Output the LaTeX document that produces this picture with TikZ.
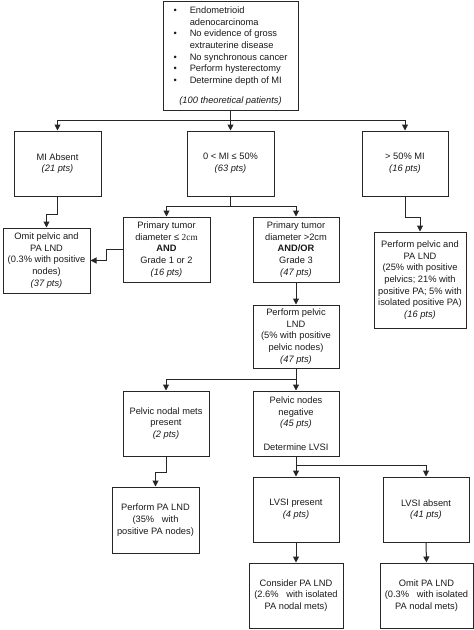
\documentclass[tikz,border=0pt]{standalone}
\usepackage{fontspec}
\setmainfont{Liberation Sans}
\newfontfamily\serifcm{Liberation Serif}
\usetikzlibrary{arrows.meta}
\begin{document}
\begin{tikzpicture}[x=1pt,y=-1pt,
  box/.style={draw=black!85, line width=1pt, inner sep=0pt, align=center,
    font=\fontsize{9.3}{11.6}\selectfont, text=black!90},
  link/.style={draw=black!85, line width=1pt},
  arr/.style={link, -{Triangle[length=6pt,width=6pt]}}]
\useasboundingbox (0,0) rectangle (474,630);

\node[box, minimum width=135pt, minimum height=109pt] (top) at (230.5,55.5)
 {\begin{tabular}{@{}l@{\hspace{13pt}}l@{}}
  \textbullet & Endometrioid\\
   & adenocarcinoma\\
  \textbullet & No evidence of gross\\
   & extrauterine disease\\
  \textbullet & No synchronous cancer\\
  \textbullet & Perform hysterectomy\\
  \textbullet & Determine depth of MI
  \end{tabular}\\[9pt]
  \textit{(100 theoretical patients)}};

\node[box, minimum width=87pt, minimum height=65pt] (mia) at (57.5,163.5)
 {MI Absent\\ \textit{(21 pts)}};
\node[box, minimum width=87pt, minimum height=65pt] (mid) at (230.5,163.5)
 {0 < MI ≤ 50\%\\ \textit{(63 pts)}};
\node[box, minimum width=86pt, minimum height=65pt] (deep) at (405,163.5)
 {> 50\% MI\\ \textit{(16 pts)}};

\node[box, minimum width=87pt, minimum height=65pt] (omit) at (46.5,260.5)
 {Omit pelvic and\\ PA LND\\ (0.3\% with positive\\ nodes)\\ \textit{(37 pts)}};
\node[box, minimum width=87pt, minimum height=65pt] (small) at (166.5,249.5)
 {Primary tumor\\ diameter ≤ {\serifcm 2cm}\\ \textbf{AND}\\ Grade 1 or 2\\ \textit{(16 pts)}};
\node[box, minimum width=86pt, minimum height=65pt] (large) at (296,249.5)
 {Primary tumor\\ diameter >2cm\\ \textbf{AND/OR}\\ Grade 3\\ \textit{(47 pts)}};
\node[box, minimum width=92pt, minimum height=96pt] (pelvpa) at (420,280)
 {Perform pelvic and\\ PA LND\\ (25\% with positive\\ pelvics; 21\% with\\ positive PA; 5\% with\\ isolated positive PA)\\ \textit{(16 pts)}};

\node[box, minimum width=86pt, minimum height=63pt] (pelvic) at (296,336.5)
 {Perform pelvic\\ LND\\ (5\% with positive\\ pelvic nodes)\\ \textit{(47 pts)}};

\node[box, minimum width=86pt, minimum height=65pt] (mets) at (166,423.5)
 {Pelvic nodal mets\\ present\\ \textit{(2 pts)}};
\node[box, minimum width=86pt, minimum height=65pt] (neg) at (296,423.5)
 {Pelvic nodes\\ negative\\ \textit{(45 pts)}\\[11.6pt] Determine LVSI};

\node[box, minimum width=87pt, minimum height=66pt] (pa) at (155.5,520)
 {Perform PA LND\\ (35\%\ \ \ with\\ positive PA nodes)};
\node[box, minimum width=86pt, minimum height=65pt] (lvsip) at (296,509.5)
 {LVSI present\\ \textit{(4 pts)}};
\node[box, minimum width=86pt, minimum height=65pt] (lvsia) at (426,509.5)
 {LVSI absent\\ \textit{(41 pts)}};

\node[box, minimum width=94pt, minimum height=65pt] (consider) at (296,595.5)
 {Consider PA LND\\ (2.6\%\ \ \ with isolated\\ PA nodal mets)};
\node[box, minimum width=93pt, minimum height=65pt] (omitpa) at (426.5,595.5)
 {Omit PA LND\\ (0.3\%\ \ \ with isolated\\ PA nodal mets)};

% connectors
\draw[link] (top.south) -- ++(0,10) coordinate (j1);
\draw[arr] (j1) -| (mia.north);
\draw[arr] (j1) -- (mid.north);
\draw[arr] (j1) -| (deep.north);

\draw[arr] (mia.south) -- ++(0,18) -| (omit.north);

\draw[link] (mid.south) -- ++(0,10) coordinate (j2);
\draw[arr] (j2) -| (small.north);
\draw[arr] (j2) -| (large.north);

\draw[arr] (small.west) -- ++(-16,0) |- (omit.east);

\draw[arr] (deep.south) -- ++(0,21) -| (pelvpa.north);

\draw[arr] (large.south) -- (pelvic.north);

\draw[link] (pelvic.south) -- ++(0,11) coordinate (j3);
\draw[arr] (j3) -| (mets.north);
\draw[arr] (j3) -- (neg.north);

\draw[link] (neg.south) -- ++(0,9) coordinate (j4);
\draw[arr] (j4) -- (lvsip.north);
\draw[arr] (j4) -| (lvsia.north);

\draw[arr] (mets.south) -- ++(0,16) -| (pa.north);

\draw[arr] (lvsip.south) -- (consider.north);
\draw[arr] (lvsia.south) -- (omitpa.north);
\end{tikzpicture}
\end{document}
